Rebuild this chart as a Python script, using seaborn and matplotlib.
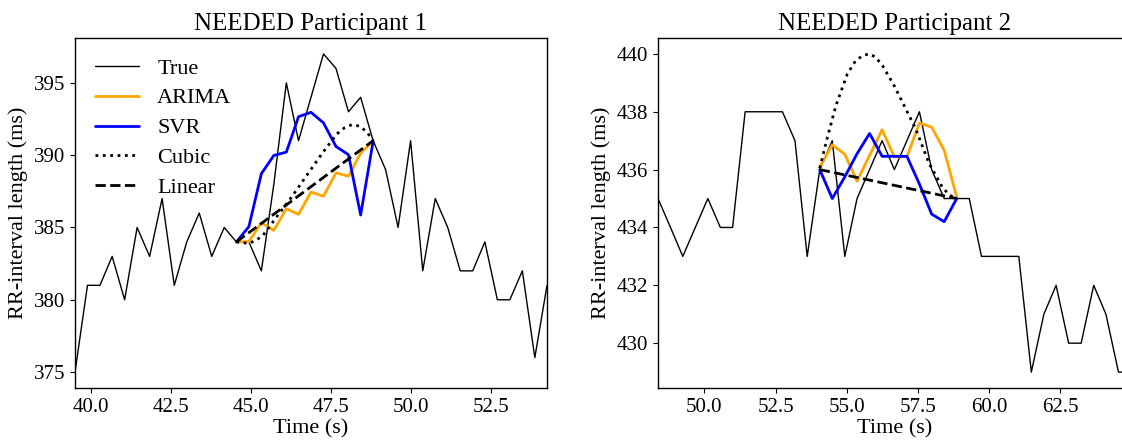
import numpy as np
import pandas as pd
import matplotlib
matplotlib.use("Agg")
import matplotlib.pyplot as plt
import seaborn as sns

# Participant 1: true RR series
p1_time = [39.50, 39.89, 40.28, 40.66, 41.05, 41.44, 41.83, 42.22, 42.60, 42.99,
           43.38, 43.77, 44.16, 44.54, 44.93, 45.32, 45.71, 46.10, 46.48, 46.87,
           47.26, 47.65, 48.04, 48.42, 48.81, 49.20, 49.59, 49.98, 50.36, 50.75,
           51.14, 51.53, 51.92, 52.30, 52.69, 53.08, 53.47, 53.86, 54.24]
p1_true = [375, 381, 381, 383, 380, 385, 383, 387, 381, 384,
           386, 383, 385, 384, 384, 382, 388, 395, 391, 394,
           397, 396, 393, 394, 391, 389, 385, 391, 382, 387,
           385, 382, 382, 384, 380, 380, 382, 376, 381]

# Participant 1: forecasts
p1_fc_time = [44.54, 44.93, 45.32, 45.71, 46.10, 46.48, 46.87, 47.26, 47.65, 48.04, 48.42, 48.81]
p1_arima = [384.0, 384.02, 385.33, 384.8, 386.3, 385.9, 387.45, 387.16, 388.78, 388.54, 390.14, 390.96]
p1_svr = [384.0, 385.06, 388.72, 389.98, 390.21, 392.66, 392.96, 392.23, 390.6, 390.03, 385.86, 390.96]
p1_cubic_time = [44.54, 44.92, 45.15, 45.38, 45.80, 46.27, 46.74, 47.21, 47.68, 47.92, 48.15, 48.40, 48.62, 48.81]
p1_cubic = [384.0, 383.9, 384.1, 384.48, 385.74, 387.12, 388.61, 390.1, 391.47, 391.9, 392.11, 392.0, 391.58, 391.0]
p1_lin_time = [44.54, 48.81]
p1_linear = [384.0, 391.0]

# Participant 2: true RR series
p2_time = [48.37, 48.81, 49.24, 49.68, 50.12, 50.56, 50.99, 51.43, 51.87, 52.30,
           52.74, 53.18, 53.61, 54.05, 54.49, 54.93, 55.36, 55.80, 56.24, 56.67,
           57.11, 57.55, 57.98, 58.42, 58.86, 59.30, 59.73, 60.17, 60.61, 61.04,
           61.48, 61.92, 62.35, 62.79, 63.23, 63.67, 64.10, 64.54, 64.98]
p2_true = [435, 434, 433, 434, 435, 434, 434, 438, 438, 438,
           438, 437, 433, 436, 437, 433, 435, 436, 437, 436,
           437, 438, 436, 435, 435, 435, 433, 433, 433, 433,
           429, 431, 432, 430, 430, 432, 431, 429, 429]

# Participant 2: forecasts
p2_fc_time = [54.05, 54.49, 54.93, 55.36, 55.80, 56.24, 56.67, 57.11, 57.55, 57.98, 58.42, 58.86]
p2_arima = [436.08, 436.86, 436.53, 435.6, 436.49, 437.38, 436.44, 436.44, 437.61, 437.47, 436.67, 435.05]
p2_svr = [436.0, 435.0, 435.75, 436.55, 437.25, 436.46, 436.46, 436.46, 435.5, 434.46, 434.2, 435.0]
p2_cubic_time = [54.05, 54.32, 54.62, 55.02, 55.30, 55.55, 55.78, 56.00, 56.25, 56.66, 57.01, 57.42, 57.89, 58.35, 58.60, 58.86]
p2_cubic = [436.05, 437.12, 438.22, 439.31, 439.75, 439.94, 440.0, 439.9, 439.6, 438.91, 438.22, 437.41, 436.21, 435.4, 435.12, 435.0]
p2_lin_time = [54.05, 58.86]
p2_linear = [436.0, 435.0]

sns.set_style("ticks", {
    "axes.edgecolor": "black",
    "xtick.color": "black",
    "ytick.color": "black",
    "text.color": "black",
    "axes.labelcolor": "black",
})
plt.rcParams["font.family"] = ["Liberation Serif", "DejaVu Serif"]
plt.rcParams["xtick.labelsize"] = 15
plt.rcParams["ytick.labelsize"] = 15
plt.rcParams["xtick.major.size"] = 3.5
plt.rcParams["ytick.major.size"] = 3.5
plt.rcParams["axes.linewidth"] = 1.0

fig = plt.figure(figsize=(11.22, 4.4), dpi=100)
ax1 = fig.add_axes([75 / 1122, 52 / 440, 472 / 1122, 350 / 440])
ax2 = fig.add_axes([658 / 1122, 52 / 440, 473 / 1122, 350 / 440])

panels = [
    (ax1, "NEEDED Participant 1", p1_time, p1_true, p1_fc_time, p1_arima, p1_svr,
     p1_cubic_time, p1_cubic, p1_lin_time, p1_linear),
    (ax2, "NEEDED Participant 2", p2_time, p2_true, p2_fc_time, p2_arima, p2_svr,
     p2_cubic_time, p2_cubic, p2_lin_time, p2_linear),
]

for ax, title, t, y, ft, ar, sv, ct, cu, lt, li in panels:
    sns.lineplot(x=t, y=y, ax=ax, color="black", linewidth=1, label="True")
    sns.lineplot(x=ft, y=ar, ax=ax, color="orange", linewidth=2, label="ARIMA")
    sns.lineplot(x=ft, y=sv, ax=ax, color="blue", linewidth=2, label="SVR")
    sns.lineplot(x=ct, y=cu, ax=ax, color="black", linewidth=2, linestyle=":", label="Cubic")
    sns.lineplot(x=lt, y=li, ax=ax, color="black", linewidth=2, linestyle="--", label="Linear")
    ax.set_xlim(t[0], t[-1])
    ax.set_title(title, fontsize=18)
    ax.set_xlabel("Time (s)", fontsize=16, labelpad=2)
    ax.set_ylabel("RR-interval length (ms)", fontsize=16)

ax1.legend(loc="upper left", frameon=False, fontsize=16, labelspacing=0.42)
ax2.get_legend().remove()
ax1.set_yticks([375, 380, 385, 390, 395])
ax2.set_yticks([430, 432, 434, 436, 438, 440])

fig.savefig("out.png", dpi=100)
